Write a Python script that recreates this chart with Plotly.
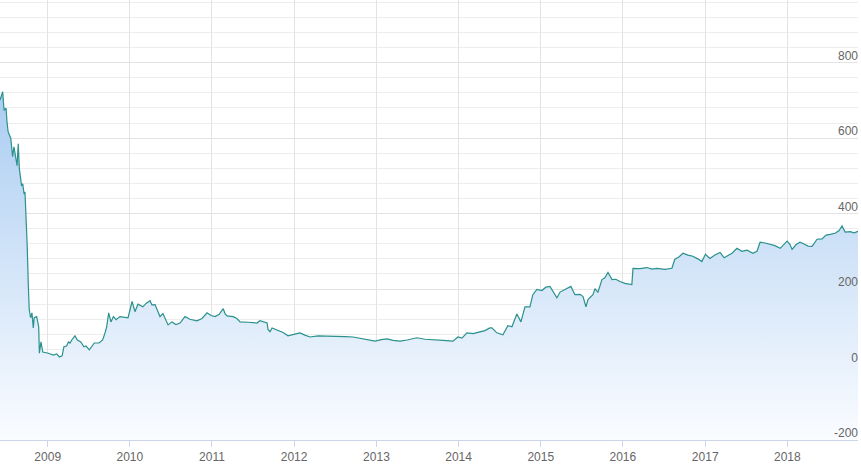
import plotly.graph_objects as go

dates = [
    "2008-06-03", "2008-06-15", "2008-06-21", "2008-06-30", "2008-07-04", "2008-07-09", "2008-07-21", "2008-07-29",
    "2008-08-04", "2008-08-12", "2008-08-18", "2008-08-23", "2008-08-28", "2008-09-03", "2008-09-07", "2008-09-12",
    "2008-09-18", "2008-09-22", "2008-09-25", "2008-09-30", "2008-10-02", "2008-10-07", "2008-10-11", "2008-10-17",
    "2008-10-23", "2008-10-29", "2008-11-02", "2008-11-13", "2008-11-22", "2008-11-25", "2008-12-02", "2008-12-10",
    "2009-01-04", "2009-01-26", "2009-02-10", "2009-02-22", "2009-03-06", "2009-03-14", "2009-03-26", "2009-04-03",
    "2009-04-10", "2009-04-18", "2009-05-02", "2009-05-13", "2009-05-28", "2009-06-11", "2009-06-20", "2009-07-05",
    "2009-07-16", "2009-07-27", "2009-08-17", "2009-09-02", "2009-09-13", "2009-09-20", "2009-09-29", "2009-10-09",
    "2009-10-20", "2009-11-01", "2009-11-18", "2009-12-24",
    "2010-01-11", "2010-01-24", "2010-02-06", "2010-02-28", "2010-03-14", "2010-04-01", "2010-04-09", "2010-04-23",
    "2010-05-15", "2010-05-28", "2010-06-20", "2010-07-07", "2010-07-25", "2010-08-12", "2010-09-03", "2010-09-25",
    "2010-10-26", "2010-11-18", "2010-12-10", "2010-12-28",
    "2011-01-15", "2011-02-02", "2011-02-20", "2011-02-28", "2011-03-09", "2011-04-05", "2011-04-22", "2011-05-06",
    "2011-06-10", "2011-07-20", "2011-08-02", "2011-08-20", "2011-09-03", "2011-09-07", "2011-09-16", "2011-09-25",
    "2011-10-17", "2011-11-13", "2011-12-05", "2011-12-27",
    "2012-01-27", "2012-02-18", "2012-03-12", "2012-04-16", "2012-05-26", "2012-07-01", "2012-08-14", "2012-09-19",
    "2012-10-29", "2012-11-25", "2012-12-26",
    "2013-01-22", "2013-02-17", "2013-03-16", "2013-04-16", "2013-05-17", "2013-06-08", "2013-06-30", "2013-08-05",
    "2013-09-09", "2013-10-24", "2013-12-07", "2013-12-29",
    "2014-01-16", "2014-02-07", "2014-03-06", "2014-04-06", "2014-04-28", "2014-05-20", "2014-05-29", "2014-06-20",
    "2014-07-17", "2014-08-08", "2014-08-26", "2014-09-17", "2014-10-05", "2014-10-23", "2014-11-14", "2014-11-27",
    "2014-12-15",
    "2015-01-06", "2015-01-24", "2015-02-11", "2015-03-01", "2015-03-14", "2015-03-28", "2015-04-10", "2015-04-28",
    "2015-05-15", "2015-06-02", "2015-06-25", "2015-07-08", "2015-07-21", "2015-07-30", "2015-08-08", "2015-08-21",
    "2015-08-30", "2015-09-12", "2015-09-30", "2015-10-13", "2015-10-27", "2015-11-14", "2015-12-01", "2015-12-19",
    "2016-01-10", "2016-01-28", "2016-02-10", "2016-02-15", "2016-03-17", "2016-04-17", "2016-05-09", "2016-05-31",
    "2016-07-06", "2016-08-06", "2016-08-19", "2016-09-06", "2016-09-24", "2016-10-16", "2016-11-07", "2016-11-29",
    "2016-12-17",
    "2017-01-02", "2017-01-22", "2017-02-13", "2017-03-08", "2017-03-26", "2017-04-08", "2017-04-30", "2017-05-22",
    "2017-06-13", "2017-07-06", "2017-08-01", "2017-08-19", "2017-09-02", "2017-09-24", "2017-10-16", "2017-11-07",
    "2017-11-30", "2017-12-17", "2017-12-31",
    "2018-01-13", "2018-01-22", "2018-02-09", "2018-02-26", "2018-03-21", "2018-04-03", "2018-04-21", "2018-05-04",
    "2018-05-13", "2018-06-04", "2018-06-22", "2018-07-10", "2018-08-01", "2018-08-19", "2018-09-01", "2018-09-15",
    "2018-10-07", "2018-10-25", "2018-11-11",
]

values = [
    701, 723, 674, 679, 644, 617, 599, 551, 577, 545, 527, 585, 519, 492, 473, 479,
    452, 457, 420, 324, 313, 207, 145, 124, 137, 97, 124, 127, 100, 30, 60, 33,
    30, 25, 28, 20, 23, 47, 49, 60, 57, 65, 76, 65, 60, 47, 49, 39,
    47, 57, 57, 65, 84, 100, 137, 113, 127, 119, 127, 124,
    167, 140, 160, 153, 162, 169, 158, 159, 127, 135, 105, 113, 106, 110, 127, 120,
    116, 122, 137, 130,
    127, 133, 148, 135, 129, 127, 122, 113, 112, 110, 116, 112, 110, 93, 87, 97,
    92, 85, 76, 79,
    84, 78, 73, 76, 76, 74, 74, 73, 68, 64, 62,
    66, 68, 64, 62, 65, 69, 71, 67, 65, 64, 62, 73,
    70, 84, 82, 87, 90, 97, 97, 84, 79, 103, 100, 134, 113, 153, 153, 185, 199,
    196, 205, 207, 190, 177, 192, 196, 200, 207, 185, 186, 180, 153, 172, 177, 185,
    201, 191, 225, 230, 244, 225, 226, 220,
    215, 214, 212, 255, 254, 257, 253, 255, 252, 255, 279, 285, 295, 290, 287, 280, 273,
    292, 281, 290, 297, 283, 287, 295, 308, 300, 303, 295, 300, 324, 322, 319, 315,
    308, 320, 327,
    318, 305, 318, 324, 318, 314, 313, 326, 332, 333, 343, 345, 348, 355, 367, 351,
    352, 349, 353,
]

x_range = ["2008-06-03", "2018-11-11"]
y_min, y_max = -200, 966
y_ticks = [-200, 0, 200, 400, 600, 800]
y_tick_labels = ["-200", "0", "200", "400", "600", "800"]

fig = go.Figure()
# baseline at the bottom of the value axis so the fill reaches the axis floor
fig.add_trace(go.Scatter(
    x=dates, y=[y_min] * len(dates), mode="lines",
    line=dict(width=0, color="rgba(0,0,0,0)"), hoverinfo="skip", showlegend=False,
))
fig.add_trace(go.Scatter(
    x=dates, y=values, mode="lines",
    line=dict(color="rgb(42,145,140)", width=1.2),
    fill="tonexty",
    fillgradient=dict(
        type="vertical",
        start=y_min, stop=y_max,
        colorscale=[[0, "rgb(250,252,255)"], [1, "rgb(150,192,238)"]],
    ),
    showlegend=False,
))

fig.update_layout(
    width=861, height=473,
    margin=dict(l=0, r=3, t=0, b=33),
    plot_bgcolor="white", paper_bgcolor="white",
    font=dict(family="Liberation Sans, Arial, sans-serif", size=12, color="#666666"),
    showlegend=False,
    xaxis=dict(
        type="date", range=x_range,
        tick0="2009-01-01", dtick="M12", tickformat="%Y",
        showgrid=True, gridcolor="#e3e3e3", gridwidth=1,
        showline=True, linecolor="#ccd6eb", linewidth=1,
        ticks="outside", ticklen=6, tickcolor="#ccd6eb",
        tickfont=dict(size=12, color="#666666"),
        zeroline=False,
    ),
    yaxis=dict(
        range=[y_min, y_max], side="right",
        tickvals=y_ticks, ticktext=y_tick_labels,
        ticklabelposition="inside", ticklabelshift=-7,
        ticklabelstandoff=-3,
        ticklabeloverflow="allow",
        showgrid=True, gridcolor="#e3e3e3", gridwidth=1,
        minor=dict(dtick=40, tick0=0, showgrid=True, gridcolor="#ededed", gridwidth=1),
        zeroline=False, showline=False,
        tickfont=dict(size=12, color="#666666"),
    ),
)

fig.write_html("out.html", config={"displayModeBar": False})
